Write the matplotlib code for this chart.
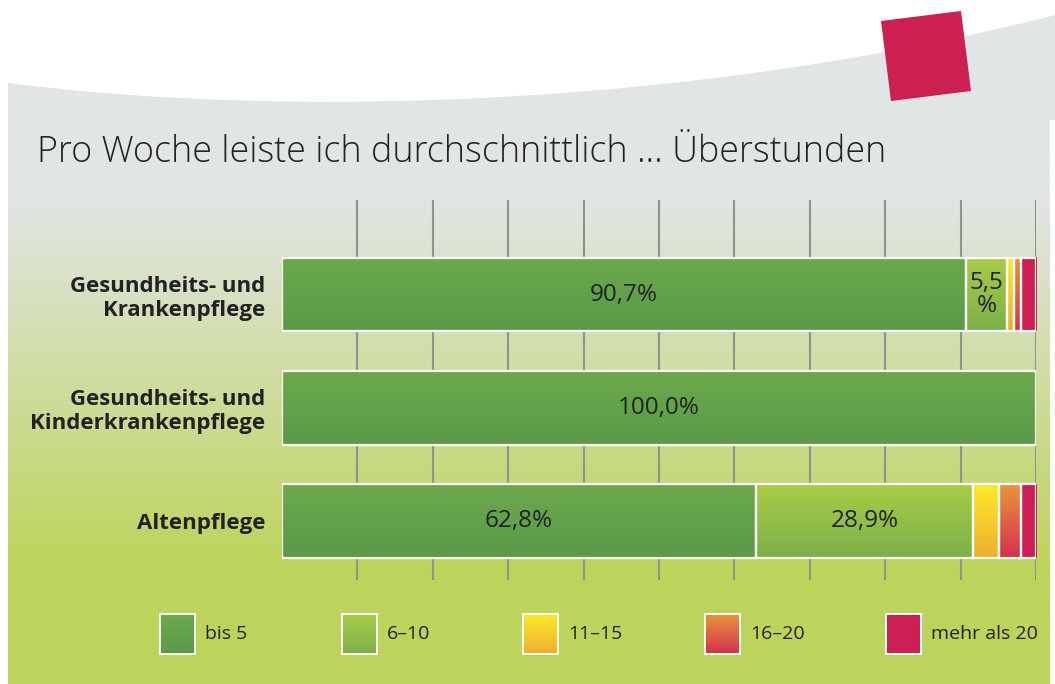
import numpy as np
import matplotlib
matplotlib.use("Agg")
import matplotlib.pyplot as plt
from matplotlib.patches import Rectangle, Polygon, PathPatch
from matplotlib.path import Path

# ---------------- data ----------------
categories = ["Gesundheits- und\nKrankenpflege",
              "Gesundheits- und\nKinderkrankenpflege",
              "Altenpflege"]
series_names = ["bis 5", "6–10", "11–15", "16–20", "mehr als 20"]
bis5 = [90.7, 100.0, 62.8]
s6_10 = [5.5, 0.0, 28.9]
s11_15 = [0.9, 0.0, 3.4]
s16_20 = [0.9, 0.0, 2.9]
mehr20 = [2.0, 0.0, 2.0]
value_labels = [["90,7%", "5,5\n%", "", "", ""],
                ["100,0%", "", "", "", ""],
                ["62,8%", "28,9%", "", "", ""]]
title = "Pro Woche leiste ich durchschnittlich … Überstunden"

# gradient colours (top, bottom) per series
seg_colors = [("#6ca94d", "#5a9a48"),
              ("#a9cc46", "#7cb049"),
              ("#fde92b", "#edb030"),
              ("#e8963a", "#d6304f"),
              ("#cc1f53", "#cc1f53")]

W, H = 1055, 684
fig = plt.figure(figsize=(W / 100, H / 100), dpi=100)
fig.patch.set_facecolor("white")

# ---------------- background ----------------
bg = fig.add_axes([0, 0, 1, 1])
bg.set_xlim(0, W)
bg.set_ylim(H, 0)
bg.axis("off")
c_top = np.array([0xe2, 0xe5, 0xe6]) / 255
c_bot = np.array([0xbd, 0xd4, 0x5c]) / 255
y_pix = np.linspace(0, H, 400)
t = np.clip((y_pix - 195) / (565 - 195), 0, 1)[:, None]
grad = c_top * (1 - t) + c_bot * t
img = np.repeat(grad[:, None, :], 2, axis=1)
bg.imshow(img, extent=[8, 1050, H, 0], aspect="auto", zorder=0)
bg.add_patch(Rectangle((1050, 0), 5, 120, facecolor="#e2e5e6", edgecolor="none", zorder=0.5))
# white curved top area
verts = [(0, 0), (0, 83), (8, 83),
         (300, 120), (700, 105), (1055, 15),
         (1055, 0), (0, 0)]
codes = [Path.MOVETO, Path.LINETO, Path.LINETO,
         Path.CURVE4, Path.CURVE4, Path.CURVE4,
         Path.LINETO, Path.CLOSEPOLY]
bg.add_patch(PathPatch(Path(verts, codes), facecolor="white", edgecolor="none", zorder=1))
# magenta square
bg.add_patch(Polygon([(881, 21), (961, 11), (971, 91), (891, 101)], closed=True,
                     facecolor="#cc1f52", edgecolor="none", zorder=2))

bg.text(37, 152, title, fontsize=25.8, family="Open Sans", fontweight="light",
        color="#222222", va="center", ha="left", zorder=3)

# ---------------- chart ----------------
ax_l, ax_r = 282 / W, 1036 / W
ax_top, ax_bot = 200, 580
ax = fig.add_axes([ax_l, 1 - ax_bot / H, ax_r - ax_l, (ax_bot - ax_top) / H])
ax.set_facecolor("none")
for s in ax.spines.values():
    s.set_visible(False)
ax.set_xticks(np.arange(10, 101, 10))
ax.tick_params(axis="x", length=0, labelbottom=False)
ax.grid(axis="x", color="#8e938f", linewidth=1.5)
ax.set_axisbelow(True)
ax.set_yticks(range(len(categories)))
ax.set_yticklabels(categories, fontsize=16, fontweight="bold", family="Open Sans",
                   color="#222222", linespacing=1.15)
ax.tick_params(axis="y", length=0, pad=12)

series = [bis5, s6_10, s11_15, s16_20, mehr20]
bar_h = 0.65
grad_y = np.linspace(0, 1, 64)[:, None]
for i in range(len(categories)):
    left = 0.0
    for k, vals in enumerate(series):
        v = vals[i]
        if v <= 0:
            continue
        ct = np.array(matplotlib.colors.to_rgb(seg_colors[k][0]))
        cb = np.array(matplotlib.colors.to_rgb(seg_colors[k][1]))
        g = ct * (1 - grad_y) + cb * grad_y
        gimg = np.repeat(g[:, None, :], 2, axis=1)
        ax.imshow(gimg, extent=[left, left + v, i + bar_h / 2, i - bar_h / 2],
                  aspect="auto", zorder=3, interpolation="bilinear")
        ax.add_patch(Rectangle((left, i - bar_h / 2), v, bar_h, facecolor="none",
                               edgecolor="white", linewidth=1.6, zorder=4))
        lab = value_labels[i][k]
        if lab:
            ax.text(left + v / 2, i, lab, ha="center", va="center", fontsize=17.5,
                    family="Open Sans", color="#222222", zorder=5, linespacing=0.95)
        left += v
ax.set_xlim(0, 100)
ax.set_ylim(2.522, -0.836)

# ---------------- legend ----------------
leg_x = [160, 342, 523, 705, 886]
for k, name in enumerate(series_names):
    x0 = leg_x[k]
    ct = np.array(matplotlib.colors.to_rgb(seg_colors[k][0]))
    cb = np.array(matplotlib.colors.to_rgb(seg_colors[k][1]))
    g = ct * (1 - grad_y) + cb * grad_y
    gimg = np.repeat(g[:, None, :], 2, axis=1)
    bg.imshow(gimg, extent=[x0, x0 + 35, 654, 614], aspect="auto", zorder=3)
    bg.add_patch(Rectangle((x0, 614), 35, 40, facecolor="none", edgecolor="white",
                           linewidth=1.4, zorder=4))
    bg.text(x0 + 45, 634, name, fontsize=14, family="Open Sans", color="#222222",
            va="center", ha="left", zorder=4)
bg.set_xlim(0, W)
bg.set_ylim(H, 0)

fig.savefig("out.png", dpi=100)
